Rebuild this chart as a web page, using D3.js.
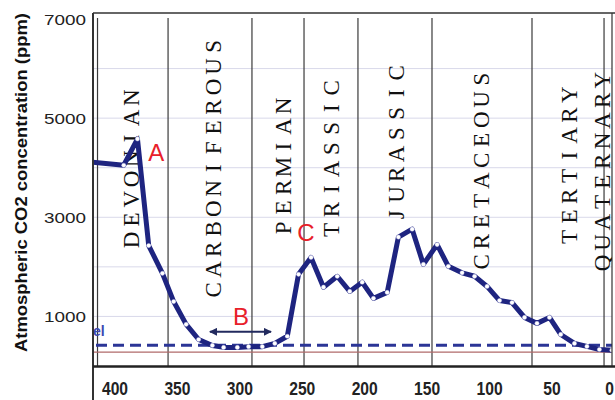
<!DOCTYPE html>
<html><head><meta charset="utf-8">
<script src="https://cdn.jsdelivr.net/npm/d3@7"></script>
<style>html,body{margin:0;padding:0;background:#fff;}svg{display:block;}</style>
</head><body>
<svg id="chart" width="615" height="400"></svg>
<script>
// ---- data ----
const ages = [420, 393, 382, 373, 362, 353, 343, 333, 322, 313, 302, 293, 282, 272, 262, 253, 243, 233, 222, 212, 202, 193, 182, 173, 162, 153, 142, 133, 122, 112, 102, 92, 82, 72, 62, 52, 43, 32, 22, 12, 2];
const co2  = [4115, 4050, 4580, 2430, 1870, 1300, 840, 535, 415, 375, 375, 390, 390, 455, 600, 1850, 2190, 1590, 1810, 1505, 1690, 1365, 1485, 2600, 2760, 2050, 2450, 2010, 1880, 1810, 1605, 1320, 1280, 980, 860, 980, 636, 455, 395, 333, 320];
const periods = ["DEVONIAN","CARBONIFEROUS","PERMIAN","TRIASSIC","JURASSIC","CRETACEOUS","TERTIARY","QUATERNARY"];
const periodStart = [414, 357.5, 290.3, 248.6, 205.4, 146.1, 66, 8.3];
const periodLabelAge = [387, 321, 265, 227, 175, 107, 36, 10];
const xTicks = [400, 350, 300, 250, 200, 150, 100, 50, 0];
const yTicks = [1000, 3000, 5000, 7000];
const gridVals = [1000, 2000, 3000, 4000, 5000, 6000];
const currentLevel = 420;
const preindustrial = 280;
const annotations = [{t:"A", age:367, ppm:4140}, {t:"B", age:299, ppm:830}, {t:"C", age:247, ppm:2520}];
const arrowB = [324, 275];
const arrowPpm = 690;

// ---- layout ----
const L = 93, R = 612, T = 13, B = 366;
const labelBottom = [250, 300, 238, 240, 225, 272, 247, 273];
const pitch = 20.3;

const svg = d3.select("#chart");
const x = d3.scaleLinear().domain([400, 0]).range([115, 614.4]);
const y = d3.scaleLinear().domain([0, 7000]).range([366, 19]);

svg.append("defs").append("clipPath").attr("id","plot")
  .append("rect").attr("x", L).attr("y", T).attr("width", R - L).attr("height", B - T);
svg.select("defs").append("marker").attr("id","ah").attr("viewBox","0 0 10 10")
  .attr("refX",9).attr("refY",5).attr("markerWidth",4).attr("markerHeight",4)
  .attr("orient","auto-start-reverse")
  .append("path").attr("d","M0,0L10,5L0,10Z").attr("fill","#222a5e");

const plot = svg.append("g").attr("clip-path","url(#plot)");

// gridlines
plot.selectAll("line.grid").data(gridVals).join("line")
  .attr("x1", L).attr("x2", R).attr("y1", d => y(d)).attr("y2", d => y(d))
  .attr("stroke", "#d9d9ea").attr("stroke-width", 1);

// period boundary lines
plot.selectAll("line.per").data(periodStart).join("line")
  .attr("x1", d => x(d)).attr("x2", d => x(d)).attr("y1", 18).attr("y2", B)
  .attr("stroke", "#3a3a3a").attr("stroke-width", 1.2);

// period labels (letters evenly pitched, vertical)
periods.forEach((p, i) => {
  const cx = x(periodLabelAge[i]);
  const g = plot.append("g");
  p.split("").forEach((ch, k) => {
    const cy = labelBottom[i] - (k + 0.5) * pitch;
    g.append("text").attr("transform", `translate(${cx},${cy}) rotate(-90)`)
      .attr("text-anchor","middle").attr("dy","0.34em")
      .attr("font-family","'Liberation Serif','Times New Roman',serif")
      .attr("font-size", 23).attr("fill","#111").text(ch);
  });
});

// reference lines
plot.append("line").attr("x1", L).attr("x2", R).attr("y1", y(preindustrial)).attr("y2", y(preindustrial))
  .attr("stroke","#b06a6a").attr("stroke-width",1.2);
plot.append("line").attr("x1", L + 3).attr("x2", R).attr("y1", y(currentLevel)).attr("y2", y(currentLevel))
  .attr("stroke","#2b3596").attr("stroke-width",3).attr("stroke-dasharray","11,6");
plot.append("text").attr("x", 93).attr("y", 336).attr("font-family","'Liberation Sans',Arial,sans-serif")
  .attr("font-weight","bold").attr("font-size",14).attr("fill","#3a48b0").text("el");

// data line
const line = d3.line().x((d,i) => x(ages[i])).y((d,i) => y(co2[i]));
plot.append("path").datum(co2).attr("d", line).attr("fill","none")
  .attr("stroke","#1e2480").attr("stroke-width",5).attr("stroke-linejoin","round");
plot.selectAll("circle.pt").data(co2).join("circle")
  .attr("cx", (d,i) => x(ages[i])).attr("cy", d => y(d)).attr("r", 2.1)
  .attr("fill","#ffffff").attr("stroke","#d0d0f0").attr("stroke-width",0.4);

// annotations
svg.selectAll("text.ann").data(annotations).join("text")
  .attr("x", d => x(d.age)).attr("y", d => y(d.ppm)).attr("text-anchor","middle")
  .attr("font-family","'Liberation Sans',Arial,sans-serif").attr("font-size",24)
  .attr("fill","#e8202a").text(d => d.t);
svg.append("line").attr("x1", x(arrowB[0])).attr("x2", x(arrowB[1]))
  .attr("y1", y(arrowPpm)).attr("y2", y(arrowPpm))
  .attr("stroke","#222a5e").attr("stroke-width",2)
  .attr("marker-start","url(#ah)").attr("marker-end","url(#ah)");

// frame
svg.append("line").attr("x1", L).attr("x2", 615).attr("y1", T).attr("y2", T).attr("stroke","#333").attr("stroke-width",1.5);
svg.append("line").attr("x1", L).attr("x2", L).attr("y1", T).attr("y2", 400).attr("stroke","#333").attr("stroke-width",2);
svg.append("line").attr("x1", R).attr("x2", R).attr("y1", T).attr("y2", B).attr("stroke","#333").attr("stroke-width",1.2);
svg.append("line").attr("x1", L).attr("x2", 615).attr("y1", B + 0.5).attr("y2", B + 0.5).attr("stroke","#222").attr("stroke-width",2.6);

// y tick labels
svg.selectAll("text.yt").data(yTicks).join("text")
  .attr("x", 86).attr("y", d => y(d) + 5.5).attr("text-anchor","end")
  .attr("font-family","'Liberation Sans',Arial,sans-serif").attr("font-size",15.5)
  .attr("fill","#222").attr("textLength", 42).attr("lengthAdjust","spacingAndGlyphs")
  .text(d => d);

// x tick labels
svg.selectAll("text.xt").data(xTicks).join("text")
  .attr("x", d => Math.min(x(d), 609.5)).attr("y", 395).attr("text-anchor","middle")
  .attr("font-family","'Liberation Sans',Arial,sans-serif").attr("font-size",19).attr("font-weight","bold")
  .attr("fill","#222").attr("textLength", d => String(d).length * 8.7).attr("lengthAdjust","spacingAndGlyphs")
  .text(d => d);

// y axis title
svg.append("text").attr("transform","translate(27,182.5) rotate(-90)")
  .attr("text-anchor","middle").attr("font-family","'Liberation Sans',Arial,sans-serif")
  .attr("font-size",16).attr("font-weight","bold").attr("fill","#111")
  .attr("textLength",339).attr("lengthAdjust","spacingAndGlyphs")
  .text("Atmospheric CO2 concentration (ppm)");
</script>
</body></html>
